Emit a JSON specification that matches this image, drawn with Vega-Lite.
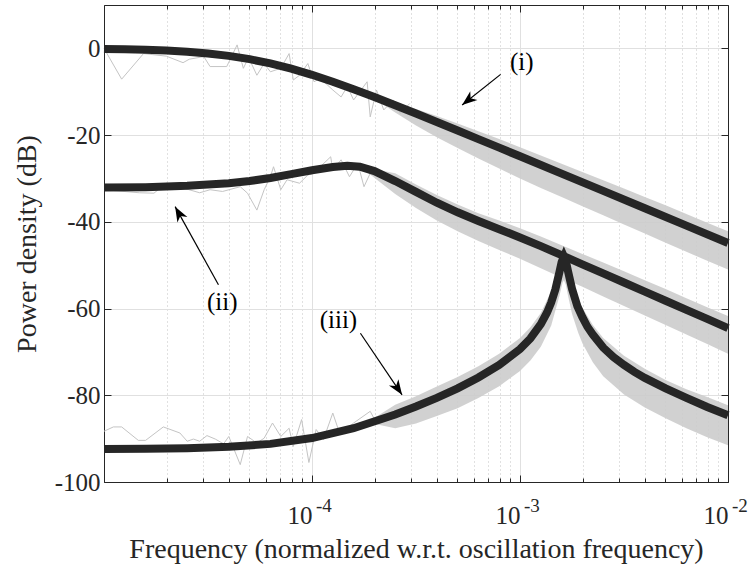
{
  "$schema": "https://vega.github.io/schema/vega-lite/v6.json",
  "width": 624,
  "height": 477,
  "autosize": {"type": "none"},
  "padding": {"left": 104, "top": 5, "right": 24, "bottom": 88},
  "background": "white",
  "config": {
    "view": {"stroke": null},
    "font": "Liberation Serif",
    "axis": {"domainColor": "#262626", "domainWidth": 1, "tickColor": "#262626", "labelColor": "#262626", "titleColor": "#262626", "labelFont": "Liberation Serif", "titleFont": "Liberation Serif", "titleFontWeight": "normal"}
  },
  "datasets": {
    "curves": [
      {"series": "i", "f": 1e-5, "db": -0.13}, {"series": "i", "f": 1.259e-5, "db": -0.21}, {"series": "i", "f": 1.585e-5, "db": -0.32}, {"series": "i", "f": 1.995e-5, "db": -0.5}, {"series": "i", "f": 2.512e-5, "db": -0.77}, {"series": "i", "f": 3.162e-5, "db": -1.17}, {"series": "i", "f": 3.981e-5, "db": -1.73}, {"series": "i", "f": 5.012e-5, "db": -2.49}, {"series": "i", "f": 6.31e-5, "db": -3.47}, {"series": "i", "f": 7.943e-5, "db": -4.69}, {"series": "i", "f": 1e-4, "db": -6.1}, {"series": "i", "f": 1.259e-4, "db": -7.69}, {"series": "i", "f": 1.585e-4, "db": -9.41}, {"series": "i", "f": 1.995e-4, "db": -11.22}, {"series": "i", "f": 2.512e-4, "db": -13.1}, {"series": "i", "f": 3.162e-4, "db": -15.02}, {"series": "i", "f": 3.981e-4, "db": -16.97}, {"series": "i", "f": 5.012e-4, "db": -18.94}, {"series": "i", "f": 6.31e-4, "db": -20.92}, {"series": "i", "f": 7.943e-4, "db": -22.9}, {"series": "i", "f": 1e-3, "db": -24.89}, {"series": "i", "f": 1.585e-3, "db": -28.88}, {"series": "i", "f": 2.512e-3, "db": -32.87}, {"series": "i", "f": 3.981e-3, "db": -36.87}, {"series": "i", "f": 6.31e-3, "db": -40.87}, {"series": "i", "f": 1e-2, "db": -44.87},
      {"series": "ii", "f": 1e-5, "db": -32.1}, {"series": "ii", "f": 1.585e-5, "db": -32.0}, {"series": "ii", "f": 2.512e-5, "db": -31.7}, {"series": "ii", "f": 3.981e-5, "db": -31.1}, {"series": "ii", "f": 5.012e-5, "db": -30.6}, {"series": "ii", "f": 6.31e-5, "db": -29.9}, {"series": "ii", "f": 7.943e-5, "db": -29.0}, {"series": "ii", "f": 1e-4, "db": -28.1}, {"series": "ii", "f": 1.259e-4, "db": -27.35}, {"series": "ii", "f": 1.479e-4, "db": -27.05}, {"series": "ii", "f": 1.698e-4, "db": -27.3}, {"series": "ii", "f": 1.995e-4, "db": -28.3}, {"series": "ii", "f": 2.512e-4, "db": -30.6}, {"series": "ii", "f": 3.162e-4, "db": -33.1}, {"series": "ii", "f": 3.981e-4, "db": -35.6}, {"series": "ii", "f": 5.012e-4, "db": -37.8}, {"series": "ii", "f": 6.31e-4, "db": -39.8}, {"series": "ii", "f": 7.943e-4, "db": -41.7}, {"series": "ii", "f": 1e-3, "db": -43.6}, {"series": "ii", "f": 1.259e-3, "db": -45.6}, {"series": "ii", "f": 1.585e-3, "db": -47.7}, {"series": "ii", "f": 1.995e-3, "db": -49.8}, {"series": "ii", "f": 2.512e-3, "db": -51.9}, {"series": "ii", "f": 3.162e-3, "db": -54.0}, {"series": "ii", "f": 3.981e-3, "db": -56.1}, {"series": "ii", "f": 5.012e-3, "db": -58.2}, {"series": "ii", "f": 6.31e-3, "db": -60.3}, {"series": "ii", "f": 7.943e-3, "db": -62.4}, {"series": "ii", "f": 1e-2, "db": -64.5},
      {"series": "iii", "f": 1e-5, "db": -92.37}, {"series": "iii", "f": 1.585e-5, "db": -92.31}, {"series": "iii", "f": 2.512e-5, "db": -92.19}, {"series": "iii", "f": 3.981e-5, "db": -91.89}, {"series": "iii", "f": 6.31e-5, "db": -91.21}, {"series": "iii", "f": 1e-4, "db": -89.87}, {"series": "iii", "f": 1.585e-4, "db": -87.6}, {"series": "iii", "f": 2.512e-4, "db": -84.43}, {"series": "iii", "f": 3.162e-4, "db": -82.6}, {"series": "iii", "f": 3.981e-4, "db": -80.6}, {"series": "iii", "f": 5.012e-4, "db": -78.4}, {"series": "iii", "f": 6.31e-4, "db": -75.9}, {"series": "iii", "f": 7.943e-4, "db": -73.0}, {"series": "iii", "f": 1e-3, "db": -69.35}, {"series": "iii", "f": 1.122e-3, "db": -66.9}, {"series": "iii", "f": 1.259e-3, "db": -63.6}, {"series": "iii", "f": 1.349e-3, "db": -60.9}, {"series": "iii", "f": 1.413e-3, "db": -58.6}, {"series": "iii", "f": 1.479e-3, "db": -55.6}, {"series": "iii", "f": 1.549e-3, "db": -51.5}, {"series": "iii", "f": 1.585e-3, "db": -49.3}, {"series": "iii", "f": 1.626e-3, "db": -48.0}, {"series": "iii", "f": 1.66e-3, "db": -49.0}, {"series": "iii", "f": 1.698e-3, "db": -51.2}, {"series": "iii", "f": 1.778e-3, "db": -55.4}, {"series": "iii", "f": 1.888e-3, "db": -59.5}, {"series": "iii", "f": 1.995e-3, "db": -62.0}, {"series": "iii", "f": 2.109e-3, "db": -64.2}, {"series": "iii", "f": 2.239e-3, "db": -66.0}, {"series": "iii", "f": 2.512e-3, "db": -69.0}, {"series": "iii", "f": 2.818e-3, "db": -71.2}, {"series": "iii", "f": 3.162e-3, "db": -73.0}, {"series": "iii", "f": 3.548e-3, "db": -74.6}, {"series": "iii", "f": 3.981e-3, "db": -76.0}, {"series": "iii", "f": 5.012e-3, "db": -78.4}, {"series": "iii", "f": 6.31e-3, "db": -80.6}, {"series": "iii", "f": 7.943e-3, "db": -82.7}, {"series": "iii", "f": 1e-2, "db": -84.6}
    ],
    "noise": [
      {"series": "i", "f": 1e-5, "db": 0}, {"series": "i", "f": 1.216e-5, "db": -7.1}, {"series": "i", "f": 1.549e-5, "db": -1.2}, {"series": "i", "f": 1.995e-5, "db": -1.8}, {"series": "i", "f": 2.399e-5, "db": -3.3}, {"series": "i", "f": 2.57e-5, "db": -2.5}, {"series": "i", "f": 3.02e-5, "db": -1.9}, {"series": "i", "f": 3.236e-5, "db": -4.2}, {"series": "i", "f": 3.89e-5, "db": -4.2}, {"series": "i", "f": 4.365e-5, "db": 0.8}, {"series": "i", "f": 4.677e-5, "db": -4.6}, {"series": "i", "f": 4.955e-5, "db": -2.1}, {"series": "i", "f": 5.433e-5, "db": -6.2}, {"series": "i", "f": 5.888e-5, "db": -3.5}, {"series": "i", "f": 6.31e-5, "db": -5.4}, {"series": "i", "f": 7.079e-5, "db": -4.6}, {"series": "i", "f": 7.762e-5, "db": -1.2}, {"series": "i", "f": 8.128e-5, "db": -7.3}, {"series": "i", "f": 8.71e-5, "db": -6.2}, {"series": "i", "f": 9.55e-5, "db": -3.5}, {"series": "i", "f": 1.023e-4, "db": -7.7}, {"series": "i", "f": 1.096e-4, "db": -6.9}, {"series": "i", "f": 1.259e-4, "db": -9.6}, {"series": "i", "f": 1.38e-4, "db": -11.2}, {"series": "i", "f": 1.479e-4, "db": -8.8}, {"series": "i", "f": 1.585e-4, "db": -11.9}, {"series": "i", "f": 1.841e-4, "db": -7.7}, {"series": "i", "f": 1.905e-4, "db": -15.8}, {"series": "i", "f": 2.042e-4, "db": -9.6}, {"series": "i", "f": 2.213e-4, "db": -14.2}, {"series": "i", "f": 2.455e-4, "db": -11.9}, {"series": "i", "f": 2.661e-4, "db": -15.0}, {"series": "i", "f": 2.951e-4, "db": -12.7},
      {"series": "ii", "f": 1e-5, "db": -32.6}, {"series": "ii", "f": 1.479e-5, "db": -33.3}, {"series": "ii", "f": 1.738e-5, "db": -33.4}, {"series": "ii", "f": 1.995e-5, "db": -31.1}, {"series": "ii", "f": 2.884e-5, "db": -33.3}, {"series": "ii", "f": 3.236e-5, "db": -32.6}, {"series": "ii", "f": 3.715e-5, "db": -33.0}, {"series": "ii", "f": 4.519e-5, "db": -31.9}, {"series": "ii", "f": 4.898e-5, "db": -33.4}, {"series": "ii", "f": 5.433e-5, "db": -37.3}, {"series": "ii", "f": 5.888e-5, "db": -32.6}, {"series": "ii", "f": 6.31e-5, "db": -29.6}, {"series": "ii", "f": 6.531e-5, "db": -27.3}, {"series": "ii", "f": 7.079e-5, "db": -32.6}, {"series": "ii", "f": 7.586e-5, "db": -30.3}, {"series": "ii", "f": 8.71e-5, "db": -31.1}, {"series": "ii", "f": 9.55e-5, "db": -29.2}, {"series": "ii", "f": 1.023e-4, "db": -28.8}, {"series": "ii", "f": 1.096e-4, "db": -27.3}, {"series": "ii", "f": 1.23e-4, "db": -25.0}, {"series": "ii", "f": 1.259e-4, "db": -28.0}, {"series": "ii", "f": 1.38e-4, "db": -25.7}, {"series": "ii", "f": 1.514e-4, "db": -29.6}, {"series": "ii", "f": 1.66e-4, "db": -26.5}, {"series": "ii", "f": 1.778e-4, "db": -31.9}, {"series": "ii", "f": 1.905e-4, "db": -28.8},
      {"series": "iii", "f": 1e-5, "db": -88.3}, {"series": "iii", "f": 1.109e-5, "db": -87.3}, {"series": "iii", "f": 1.216e-5, "db": -87.3}, {"series": "iii", "f": 1.462e-5, "db": -90.4}, {"series": "iii", "f": 1.585e-5, "db": -90.4}, {"series": "iii", "f": 1.928e-5, "db": -87.3}, {"series": "iii", "f": 2.317e-5, "db": -88.7}, {"series": "iii", "f": 2.512e-5, "db": -90.6}, {"series": "iii", "f": 2.692e-5, "db": -90.1}, {"series": "iii", "f": 2.884e-5, "db": -90.6}, {"series": "iii", "f": 3.126e-5, "db": -89.3}, {"series": "iii", "f": 3.428e-5, "db": -90.1}, {"series": "iii", "f": 3.758e-5, "db": -91.2}, {"series": "iii", "f": 3.981e-5, "db": -89.5}, {"series": "iii", "f": 4.519e-5, "db": -96.0}, {"series": "iii", "f": 4.898e-5, "db": -89.5}, {"series": "iii", "f": 5.433e-5, "db": -91.0}, {"series": "iii", "f": 5.888e-5, "db": -89.9}, {"series": "iii", "f": 6.457e-5, "db": -86.4}, {"series": "iii", "f": 7.079e-5, "db": -89.5}, {"series": "iii", "f": 7.762e-5, "db": -87.6}, {"series": "iii", "f": 8.128e-5, "db": -91.8}, {"series": "iii", "f": 8.913e-5, "db": -85.6}, {"series": "iii", "f": 9.661e-5, "db": -95.5}, {"series": "iii", "f": 1.047e-4, "db": -87.9}, {"series": "iii", "f": 1.135e-4, "db": -90.2}, {"series": "iii", "f": 1.259e-4, "db": -84.1}, {"series": "iii", "f": 1.365e-4, "db": -89.1}, {"series": "iii", "f": 1.585e-4, "db": -86.4}, {"series": "iii", "f": 1.905e-4, "db": -83.7}, {"series": "iii", "f": 2.042e-4, "db": -86.4}
    ],
    "bands": [
      {"series": "i", "f": 1.995e-4, "lo": -11.6, "hi": -11.0}, {"series": "i", "f": 2.512e-4, "lo": -14.8, "hi": -12.4}, {"series": "i", "f": 3.162e-4, "lo": -17.8, "hi": -14.0}, {"series": "i", "f": 3.981e-4, "lo": -20.5, "hi": -15.6}, {"series": "i", "f": 5.012e-4, "lo": -23.0, "hi": -17.3}, {"series": "i", "f": 6.31e-4, "lo": -25.4, "hi": -19.1}, {"series": "i", "f": 7.943e-4, "lo": -27.7, "hi": -20.9}, {"series": "i", "f": 1e-3, "lo": -30.0, "hi": -22.8}, {"series": "i", "f": 1.259e-3, "lo": -32.2, "hi": -24.7}, {"series": "i", "f": 1.585e-3, "lo": -34.3, "hi": -26.6}, {"series": "i", "f": 1.995e-3, "lo": -36.4, "hi": -28.5}, {"series": "i", "f": 2.512e-3, "lo": -38.5, "hi": -30.4}, {"series": "i", "f": 3.162e-3, "lo": -40.6, "hi": -32.3}, {"series": "i", "f": 3.981e-3, "lo": -42.7, "hi": -34.3}, {"series": "i", "f": 5.012e-3, "lo": -44.8, "hi": -36.2}, {"series": "i", "f": 6.31e-3, "lo": -46.9, "hi": -38.2}, {"series": "i", "f": 7.943e-3, "lo": -49.0, "hi": -40.2}, {"series": "i", "f": 1e-2, "lo": -51.0, "hi": -42.2},
      {"series": "ii", "f": 1.778e-4, "lo": -28.0, "hi": -27.4}, {"series": "ii", "f": 2.512e-4, "lo": -33.6, "hi": -28.8}, {"series": "ii", "f": 3.162e-4, "lo": -36.8, "hi": -31.4}, {"series": "ii", "f": 3.981e-4, "lo": -39.7, "hi": -33.8}, {"series": "ii", "f": 5.012e-4, "lo": -42.2, "hi": -36.0}, {"series": "ii", "f": 6.31e-4, "lo": -44.4, "hi": -38.0}, {"series": "ii", "f": 7.943e-4, "lo": -46.5, "hi": -39.7}, {"series": "ii", "f": 1e-3, "lo": -48.5, "hi": -41.5}, {"series": "ii", "f": 1.259e-3, "lo": -50.7, "hi": -43.4}, {"series": "ii", "f": 1.585e-3, "lo": -52.9, "hi": -45.4}, {"series": "ii", "f": 1.995e-3, "lo": -55.0, "hi": -47.4}, {"series": "ii", "f": 2.512e-3, "lo": -57.2, "hi": -49.4}, {"series": "ii", "f": 3.162e-3, "lo": -59.4, "hi": -51.4}, {"series": "ii", "f": 3.981e-3, "lo": -61.6, "hi": -53.5}, {"series": "ii", "f": 5.012e-3, "lo": -63.8, "hi": -55.5}, {"series": "ii", "f": 6.31e-3, "lo": -66.0, "hi": -57.6}, {"series": "ii", "f": 7.943e-3, "lo": -68.2, "hi": -59.7}, {"series": "ii", "f": 1e-2, "lo": -70.4, "hi": -61.7},
      {"series": "iii", "f": 1.905e-4, "lo": -86.4, "hi": -85.8}, {"series": "iii", "f": 2.512e-4, "lo": -87.6, "hi": -82.2}, {"series": "iii", "f": 3.162e-4, "lo": -86.5, "hi": -80.2}, {"series": "iii", "f": 3.981e-4, "lo": -84.8, "hi": -78.0}, {"series": "iii", "f": 5.012e-4, "lo": -83.0, "hi": -75.8}, {"series": "iii", "f": 6.31e-4, "lo": -80.6, "hi": -73.3}, {"series": "iii", "f": 7.943e-4, "lo": -77.9, "hi": -70.4}, {"series": "iii", "f": 1e-3, "lo": -74.4, "hi": -66.8}, {"series": "iii", "f": 1.122e-3, "lo": -72.0, "hi": -64.3}, {"series": "iii", "f": 1.259e-3, "lo": -68.8, "hi": -61.0}, {"series": "iii", "f": 1.413e-3, "lo": -63.9, "hi": -56.0}, {"series": "iii", "f": 1.549e-3, "lo": -57.0, "hi": -49.0}, {"series": "iii", "f": 1.603e-3, "lo": -54.0, "hi": -46.5}, {"series": "iii", "f": 1.626e-3, "lo": -53.5, "hi": -46.0}, {"series": "iii", "f": 1.66e-3, "lo": -54.5, "hi": -47.0}, {"series": "iii", "f": 1.698e-3, "lo": -56.8, "hi": -49.0}, {"series": "iii", "f": 1.778e-3, "lo": -61.2, "hi": -53.2}, {"series": "iii", "f": 1.905e-3, "lo": -65.6, "hi": -57.5}, {"series": "iii", "f": 1.995e-3, "lo": -68.0, "hi": -59.8}, {"series": "iii", "f": 2.239e-3, "lo": -72.4, "hi": -63.8}, {"series": "iii", "f": 2.512e-3, "lo": -75.6, "hi": -66.8}, {"series": "iii", "f": 3.162e-3, "lo": -79.8, "hi": -70.9}, {"series": "iii", "f": 3.981e-3, "lo": -82.8, "hi": -73.9}, {"series": "iii", "f": 5.012e-3, "lo": -85.3, "hi": -76.5}, {"series": "iii", "f": 6.31e-3, "lo": -87.6, "hi": -78.6}, {"series": "iii", "f": 7.943e-3, "lo": -89.7, "hi": -80.4}, {"series": "iii", "f": 1e-2, "lo": -91.5, "hi": -82.3}
    ],
    "arrows": [
      {"label": "(i)", "f": 8.07e-4, "db": -6.0, "f2": 5.27e-4, "db2": -13.06},
      {"label": "(ii)", "f": 3.55e-5, "db": -54.5, "f2": 2.198e-5, "db2": -36.5},
      {"label": "(iii)", "f": 1.709e-4, "db": -65.7, "f2": 2.71e-4, "db2": -79.9}
    ],
    "labels": [
      {"label": "(i)", "f": 1.019e-3, "db": -3.16},
      {"label": "(ii)", "f": 3.7e-5, "db": -58.4},
      {"label": "(iii)", "f": 1.34e-4, "db": -62.6}
    ],
    "exponents": [
      {"f": 1e-4, "exp": "-4"}, {"f": 1e-3, "exp": "-3"}, {"f": 1e-2, "exp": "-2"}
    ]
  },
  "layer": [
    {
      "data": {"name": "bands"},
      "mark": {"type": "area", "color": "#cccccc", "opacity": 0.9},
      "encoding": {
        "x": {"field": "f", "type": "quantitative", "scale": {"type": "log", "domain": [1e-5, 1e-2], "nice": false},
          "axis": {"orient": "top", "title": null, "labels": false, "grid": false,
            "values": [1e-5,2e-5,3e-5,4e-5,5e-5,6e-5,7e-5,8e-5,9e-5,1e-4,2e-4,3e-4,4e-4,5e-4,6e-4,7e-4,8e-4,9e-4,1e-3,2e-3,3e-3,4e-3,5e-3,6e-3,7e-3,8e-3,9e-3,1e-2],
            "tickSize": {"condition": {"test": "abs(log(datum.value)/LN10 - round(log(datum.value)/LN10)) < 0.001", "value": -7}, "value": -4}}},
        "y": {"field": "lo", "type": "quantitative", "stack": null, "scale": {"domain": [-100, 10], "nice": false, "zero": false},
          "axis": {"orient": "right", "title": null, "labels": false, "grid": false, "values": [-100,-80,-60,-40,-20,0], "tickSize": -7}},
        "y2": {"field": "hi"},
        "detail": {"field": "series"}
      }
    },
    {
      "data": {"name": "noise"},
      "mark": {"type": "line", "color": "#c4c4c4", "strokeWidth": 1},
      "encoding": {
        "x": {"field": "f", "type": "quantitative", "axis": null},
        "y": {"field": "db", "type": "quantitative", "axis": null},
        "detail": {"field": "series"}
      }
    },
    {
      "data": {"name": "curves"},
      "mark": {"type": "line", "color": "#262626", "strokeWidth": 8},
      "encoding": {
        "x": {"field": "f", "type": "quantitative", "title": "Frequency (normalized w.r.t. oscillation frequency)",
          "axis": {"orient": "bottom",
            "values": [1e-5,2e-5,3e-5,4e-5,5e-5,6e-5,7e-5,8e-5,9e-5,1e-4,2e-4,3e-4,4e-4,5e-4,6e-4,7e-4,8e-4,9e-4,1e-3,2e-3,3e-3,4e-3,5e-3,6e-3,7e-3,8e-3,9e-3,1e-2],
            "labelExpr": "(abs(log(datum.value)/LN10 - round(log(datum.value)/LN10)) < 0.001 && datum.value > 5e-5) ? '10' : ''",
            "labelOverlap": false, "labelFlush": false, "labelFontSize": 25, "labelBaseline": "alphabetic", "labelAlign": "right", "labelPadding": 48, "labelDx": 3,
            "tickSize": {"condition": {"test": "abs(log(datum.value)/LN10 - round(log(datum.value)/LN10)) < 0.001", "value": -7}, "value": -4},
            "grid": true,
            "gridColor": {"condition": {"test": "abs(log(datum.value)/LN10 - round(log(datum.value)/LN10)) < 0.001", "value": "#e0e0e0"}, "value": "#c2c2c2"},
            "gridDash": {"condition": {"test": "abs(log(datum.value)/LN10 - round(log(datum.value)/LN10)) < 0.001", "value": []}, "value": [1, 3]},
            "gridWidth": 1,
            "titleFontSize": 28, "titleBaseline": "alphabetic", "titleY": 75, "titleX": 312, "titleAnchor": "middle"}},
        "y": {"field": "db", "type": "quantitative", "title": "Power density (dB)",
          "axis": {"orient": "left", "values": [-100,-80,-60,-40,-20,0],
            "labelExpr": "datum.value == 0 ? '0' : '-' + abs(datum.value)",
            "labelFontSize": 25, "labelPadding": 11, "tickSize": -7,
            "grid": true, "gridColor": "#e0e0e0", "gridWidth": 1,
            "titleFontSize": 28, "titleBaseline": "alphabetic", "titleAngle": 270, "titleX": -69, "titleY": 238.5, "titleAlign": "center"}},
        "detail": {"field": "series"}
      }
    },
    {
      "data": {"name": "arrows"},
      "mark": {"type": "rule", "color": "#000000", "strokeWidth": 1.2},
      "encoding": {
        "x": {"field": "f", "type": "quantitative", "axis": null},
        "y": {"field": "db", "type": "quantitative", "axis": null},
        "x2": {"field": "f2"},
        "y2": {"field": "db2"}
      }
    },
    {
      "data": {"name": "arrows"},
      "transform": [{"filter": "datum.label == '(i)'"}],
      "mark": {"type": "point", "shape": "M0,0 L-0.38,1 L0,0.72 L0.38,1 Z", "filled": true, "color": "#000000", "opacity": 1, "size": 900, "angle": 231.3},
      "encoding": {
        "x": {"field": "f2", "type": "quantitative", "axis": null},
        "y": {"field": "db2", "type": "quantitative", "axis": null}
      }
    },
    {
      "data": {"name": "arrows"},
      "transform": [{"filter": "datum.label == '(ii)'"}],
      "mark": {"type": "point", "shape": "M0,0 L-0.38,1 L0,0.72 L0.38,1 Z", "filled": true, "color": "#000000", "opacity": 1, "size": 900, "angle": 331.1},
      "encoding": {
        "x": {"field": "f2", "type": "quantitative", "axis": null},
        "y": {"field": "db2", "type": "quantitative", "axis": null}
      }
    },
    {
      "data": {"name": "arrows"},
      "transform": [{"filter": "datum.label == '(iii)'"}],
      "mark": {"type": "point", "shape": "M0,0 L-0.38,1 L0,0.72 L0.38,1 Z", "filled": true, "color": "#000000", "opacity": 1, "size": 900, "angle": 145.9},
      "encoding": {
        "x": {"field": "f2", "type": "quantitative", "axis": null},
        "y": {"field": "db2", "type": "quantitative", "axis": null}
      }
    },
    {
      "data": {"name": "labels"},
      "mark": {"type": "text", "font": "Liberation Serif", "fontSize": 25, "color": "#000000", "align": "center", "baseline": "middle"},
      "encoding": {
        "x": {"field": "f", "type": "quantitative", "axis": null},
        "y": {"field": "db", "type": "quantitative", "axis": null},
        "text": {"field": "label"}
      }
    },
    {
      "data": {"name": "exponents"},
      "mark": {"type": "text", "font": "Liberation Serif", "fontSize": 19, "color": "#262626", "align": "left", "baseline": "alphabetic", "dx": 4, "dy": 29.7},
      "encoding": {
        "x": {"field": "f", "type": "quantitative", "axis": null},
        "y": {"datum": -100, "type": "quantitative", "axis": null},
        "text": {"field": "exp"}
      }
    }
  ],
  "resolve": {"axis": {"x": "independent", "y": "independent"}}
}
